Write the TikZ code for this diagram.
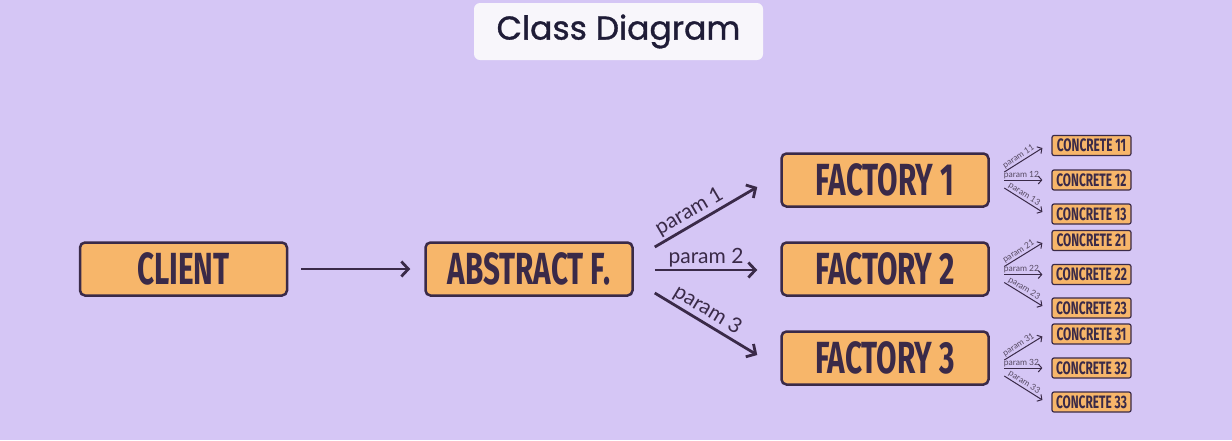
\documentclass[tikz,border=0pt]{standalone}
\usepackage{fontspec}
\usepackage{tikz}
\usetikzlibrary{arrows.meta,calc}
\setmainfont{Lato}
\newfontfamily\titlefont{Poppins}[FakeBold=1]
\newfontfamily\boxfont{Fira Sans}[FakeStretch=0.66]
\definecolor{bgpurple}{HTML}{D5C6F5}
\definecolor{boxorange}{HTML}{F7B66A}
\definecolor{inkdark}{HTML}{3A2A48}
\definecolor{titlewhite}{HTML}{F8F6FB}
\definecolor{titleink}{HTML}{1F1C37}

\begin{document}
\begin{tikzpicture}[x=1pt, y=-1pt,
    >={Straight Barb[length=7pt,width=15pt]},
    box/.style={draw=inkdark, fill=boxorange, line width=2.5pt, rounded corners=5pt,
      minimum width=207pt, minimum height=53pt, text=inkdark,
      font=\boxfont\bfseries\fontsize{45}{45}\selectfont},
    small box/.style={draw=inkdark, fill=boxorange, line width=1.2pt, rounded corners=2pt,
      minimum width=79pt, minimum height=20pt, inner sep=0pt, text=inkdark,
      font=\boxfont\bfseries\fontsize{18}{18}\selectfont},
    big arrow/.style={->, draw=inkdark, line width=2.8pt},
    small arrow/.style={->, draw=inkdark, line width=1pt,
      >={Straight Barb[length=3.5pt,width=8pt]}},
    param/.style={font=\fontsize{21}{21}\selectfont, text=inkdark, inner sep=2pt},
    small param/.style={font=\fontsize{8.5}{8.5}\selectfont, text=inkdark!85, inner sep=1pt}]
    \fill[bgpurple] (0,0) rectangle (1232,440);
    \useasboundingbox (0,0) rectangle (1232,440);

    % title
    \node[fill=titlewhite, rounded corners=6pt, minimum width=289pt, minimum height=57pt,
      text=titleink, font=\titlefont\fontsize{33}{33}\selectfont] (title) at (618.5,31.5) {Class Diagram};

    % main boxes
    \node[box] (client) at (183.5,269) {CLIENT};
    \node[box] (abstract) at (529,269) {ABSTRACT F.};
    \node[box] (f1) at (885,180) {FACTORY 1};
    \node[box] (f2) at (885,269) {FACTORY 2};
    \node[box] (f3) at (885,358) {FACTORY 3};

    % concrete products
    \node[small box] (c11) at (1091.5,145.5) {CONCRETE 11};
    \node[small box] (c12) at (1091.5,180) {CONCRETE 12};
    \node[small box] (c13) at (1091.5,214) {CONCRETE 13};
    \node[small box] (c21) at (1091.5,240.5) {CONCRETE 21};
    \node[small box] (c22) at (1091.5,274.5) {CONCRETE 22};
    \node[small box] (c23) at (1091.5,308) {CONCRETE 23};
    \node[small box] (c31) at (1091.5,334) {CONCRETE 31};
    \node[small box] (c32) at (1091.5,368) {CONCRETE 32};
    \node[small box] (c33) at (1091.5,402) {CONCRETE 33};

    % arrows
    \draw[big arrow] ([shift={(13,0)}]client.east) -- ([shift={(-14,0)}]abstract.west);
    \draw[big arrow] ([shift={(21,-22)}]abstract.east) -- node[param, above, sloped, pos=0.4] {param 1} ([shift={(-23,7)}]f1.west);
    \draw[big arrow] ([shift={(21,1)}]abstract.east) -- node[param, above, pos=0.5] {param 2} ([shift={(-23,1)}]f2.west);
    \draw[big arrow] ([shift={(21,24)}]abstract.east) -- node[param, above, sloped, pos=0.45] {param 3} ([shift={(-23,-3)}]f3.west);

    \foreach \f in {1,2,3} {
      \draw[small arrow] ($(f\f.east |- c\f2.west)+(14.5,-8)$) -- node[small param, above, sloped, pos=0.45] {param \f1} ($(c\f1.west)+(-9,2.5)$);
      \draw[small arrow] ($(f\f.east |- c\f2.west)+(14.5,0)$) -- node[small param, above, pos=0.45] {param \f2} ($(c\f2.west)+(-9,0)$);
      \draw[small arrow] ($(f\f.east |- c\f2.west)+(14.5,8)$) -- node[small param, above, sloped, pos=0.45] {param \f3} ($(c\f3.west)+(-9,-2)$);
    }
  \end{tikzpicture}
\end{document}
